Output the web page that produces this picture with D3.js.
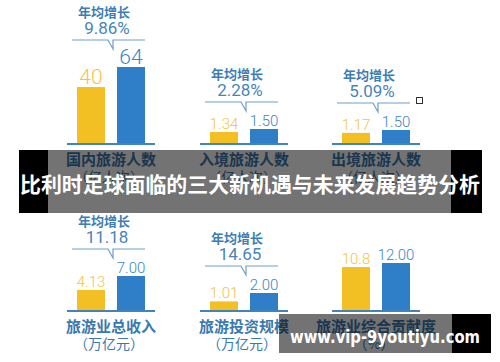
<!DOCTYPE html>
<html>
<head>
<meta charset="utf-8">
<script src="https://cdn.jsdelivr.net/npm/d3@7"></script>
<style>
  body { margin: 0; background: #fff; }
  svg { display: block; }
</style>
</head>
<body>
<div id="graph"></div>
<script>
// chart values
const categories = ["国内旅游人数", "入境旅游人数", "出境旅游人数", "旅游业总收入", "旅游投资规模", "旅游业综合贡献度"];
const units = ["（亿人次）", "（亿人次）", "（亿人次）", "（万亿元）", "（万亿元）", "（%）"];
const startValues = [40, 1.34, 1.17, 4.13, 1.01, 10.8];
const endValues = [64, 1.50, 1.50, 7.00, 2.00, 12.00];
const startLabels = ["40", "1.34", "1.17", "4.13", "1.01", "10.8"];
const endLabels = ["64", "1.50", "1.50", "7.00", "2.00", "12.00"];
const growthLabels = ["9.86%", "2.28%", "5.09%", "11.18", "14.65", null];
const growthTitle = "年均增长";
const title = "比利时足球面临的三大新机遇与未来发展趋势分析";
const siteText = "www.vip-9youtiyu.com";

// panel layout (each small chart has its own scale)
let panels = [
  { x0: 77, base: 143, hMax: 76, floor: -27, fs: 21 },
  { x0: 210, base: 143, hMax: 14, floor: 0.75, fs: 15 },
  { x0: 342, base: 143, hMax: 13, floor: 0, fs: 15 },
  { x0: 77, base: 310, hMax: 34, floor: 0, fs: 15 },
  { x0: 210, base: 310, hMax: 17, floor: 0, fs: 15 },
  { x0: 342, base: 310, hMax: 47, floor: -2, fs: 15 }
];

let svgWidth = 500, svgHeight = 362;
let yellow = "#f3c023", blue = "#2f7fc8";
let cjk = "'Noto Sans CJK SC', 'Noto Sans', sans-serif";
let num = "Roboto, 'Liberation Sans', Arial, sans-serif";

let svg = d3.select("#graph")
  .append("svg")
  .attr("width", svgWidth)
  .attr("height", svgHeight);

let xBand = d3.scaleBand()
  .domain(["start", "end"])
  .range([0, 68])
  .paddingInner(0.3)
  .paddingOuter(0);

panels.forEach(function (p, i) {
  let g = svg.append("g").attr("transform", `translate(${p.x0},0)`);
  let yScale = d3.scaleLinear()
    .domain([p.floor, endValues[i]])
    .range([p.base, p.base - p.hMax]);

  let rows = [
    { key: "start", v: startValues[i], label: startLabels[i], color: yellow, text: "#f1c544" },
    { key: "end", v: endValues[i], label: endLabels[i], color: blue, text: "#3b85c6" }
  ];

  g.selectAll("rect.bar")
    .data(rows)
    .enter().append("rect")
    .attr("class", "bar")
    .attr("x", d => xBand(d.key))
    .attr("width", xBand.bandwidth())
    .attr("y", d => yScale(d.v))
    .attr("height", d => p.base - yScale(d.v))
    .style("fill", d => d.color);

  g.selectAll("text.val")
    .data(rows)
    .enter().append("text")
    .attr("class", "val")
    .attr("x", d => xBand(d.key) + xBand.bandwidth() / 2)
    .attr("y", d => yScale(d.v) - 3)
    .attr("text-anchor", "middle")
    .style("font-family", num)
    .style("font-weight", 300)
    .style("font-size", p.fs + "px")
    .style("fill", d => d.text)
    .text(d => d.label);

  // base line
  g.append("line")
    .attr("x1", -10).attr("x2", 78)
    .attr("y1", p.base + 1).attr("y2", p.base + 1)
    .style("stroke", "#3f84bf")
    .style("stroke-width", 2);

  // category name + unit
  g.append("text")
    .attr("x", 34).attr("y", p.base + 15)
    .attr("text-anchor", "middle")
    .attr("dominant-baseline", "central")
    .style("font-family", cjk)
    .style("font-weight", "bold")
    .style("font-size", "15px")
    .style("fill", "#3a79ae")
    .text(categories[i]);
  g.append("text")
    .attr("x", 32).attr("y", p.base + 33)
    .attr("text-anchor", "middle")
    .attr("dominant-baseline", "central")
    .style("font-family", cjk)
    .style("font-size", "14px")
    .style("fill", "#3a79ae")
    .text(units[i]);

  // growth callout
  if (growthLabels[i]) {
    let ly = yScale(endValues[i]) - 27;
    let nx = xBand("start") + xBand.bandwidth() + (xBand.step() - xBand.bandwidth()) / 2 + 2;
    g.append("path")
      .attr("d", `M-5,${ly}H${nx - 5}L${nx},${ly + 9}V${ly}H68`)
      .style("fill", "none")
      .style("stroke", "#6c9fca")
      .style("stroke-width", 1.2);
    g.append("text")
      .attr("x", 27).attr("y", ly - 29)
      .attr("text-anchor", "middle")
      .attr("dominant-baseline", "central")
      .style("font-family", cjk)
      .style("font-weight", "bold")
      .style("font-size", "13px")
      .style("fill", "#3c7db4")
      .text(growthTitle);
    g.append("text")
      .attr("x", 30).attr("y", ly - 12)
      .attr("text-anchor", "middle")
      .attr("dominant-baseline", "central")
      .style("font-family", num)
      .style("font-size", "17px")
      .style("fill", "#4785ba")
      .text(growthLabels[i]);
  }
});

// small square mark
svg.append("rect")
  .attr("x", 416.5).attr("y", 97.5)
  .attr("width", 6).attr("height", 6)
  .style("fill", "#fff")
  .style("stroke", "#333");

// title banner
svg.append("rect").attr("x", 19).attr("y", 150).attr("width", 29).attr("height", 63).style("fill", "#000");
svg.append("rect").attr("x", 451).attr("y", 150).attr("width", 31).attr("height", 63).style("fill", "#000");
svg.append("rect").attr("x", 48).attr("y", 150).attr("width", 403).attr("height", 63)
  .style("fill", "#000").style("opacity", 0.55);
svg.append("text")
  .attr("x", 250).attr("y", 183)
  .attr("text-anchor", "middle")
  .attr("dominant-baseline", "central")
  .attr("textLength", 460)
  .attr("lengthAdjust", "spacingAndGlyphs")
  .style("font-family", cjk)
  .style("font-weight", "bold")
  .style("font-size", "21px")
  .style("fill", "#fff")
  .text(title);

// site banner
svg.append("rect").attr("x", 279).attr("y", 314).attr("width", 173).attr("height", 39)
  .style("fill", "#000").style("opacity", 0.55);
svg.append("rect").attr("x", 452).attr("y", 314).attr("width", 39).attr("height", 39).style("fill", "#000");
svg.append("text")
  .attr("x", 385).attr("y", 337)
  .attr("text-anchor", "middle")
  .attr("dominant-baseline", "central")
  .attr("textLength", 190)
  .attr("lengthAdjust", "spacingAndGlyphs")
  .style("font-family", "'DejaVu Sans', sans-serif")
  .style("font-weight", "bold")
  .style("font-size", "17px")
  .style("fill", "#fff")
  .text(siteText);
</script>
</body>
</html>
